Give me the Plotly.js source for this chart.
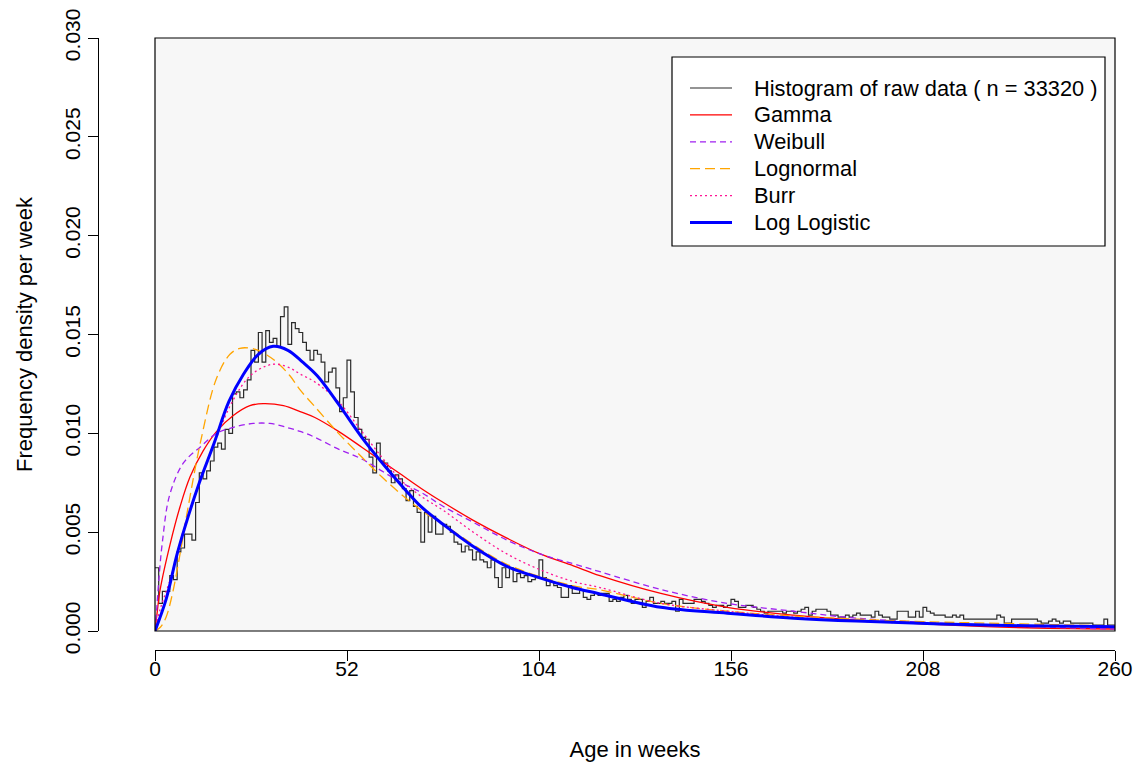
<!DOCTYPE html>
<html>
<head>
<meta charset="utf-8">
<script src="https://cdn.plot.ly/plotly-3.0.1.min.js"></script>
<style>
html,body{margin:0;padding:0;background:#ffffff;}
#chart{width:1148px;height:768px;}
</style>
</head>
<body>
<div id="chart"></div>
<script>
// ---- Histogram: density per weekly bin (weeks 0..259) ----
const histDensity = [
  0.0032,0.0014,0.0020,0.0020,0.0028,0.0026,0.0040,0.0042,0.0049,0.0049,
  0.0046,0.0065,0.0080,0.0077,0.0081,0.0086,0.0093,0.0095,0.0092,0.0102,
  0.0100,0.0120,0.0121,0.0118,0.0122,0.0127,0.0142,0.0136,0.0151,0.0136,
  0.0152,0.0146,0.0148,0.0144,0.0159,0.0164,0.0145,0.0156,0.0153,0.0151,
  0.0146,0.0142,0.0137,0.0142,0.0140,0.0136,0.0126,0.0131,0.0133,0.0123,
  0.0111,0.0118,0.0137,0.0121,0.0108,0.0102,0.0098,0.0097,0.0088,0.0080,
  0.0095,0.0086,0.0085,0.0081,0.0075,0.0079,0.0077,0.0072,0.0066,0.0071,
  0.0063,0.0060,0.0045,0.0060,0.0050,0.0058,0.0049,0.0049,0.0054,0.0053,
  0.0050,0.0045,0.0044,0.0040,0.0043,0.0041,0.0036,0.0040,0.0036,0.0035,
  0.0032,0.0036,0.0027,0.0022,0.0032,0.0027,0.0032,0.0025,0.0029,0.0027,
  0.0028,0.0025,0.0026,0.0027,0.0036,0.0027,0.0023,0.0025,0.0023,0.0022,
  0.0017,0.0017,0.0023,0.0019,0.0019,0.0021,0.0017,0.0016,0.0018,0.0019,
  0.0018,0.0019,0.0019,0.0015,0.0016,0.0015,0.0017,0.0018,0.0016,0.0014,
  0.0016,0.0016,0.0012,0.0015,0.0017,0.0014,0.0014,0.0015,0.0014,0.0014,
  0.0015,0.0010,0.0016,0.0014,0.0014,0.0014,0.0016,0.0016,0.0015,0.0014,
  0.0013,0.0012,0.0013,0.0013,0.0012,0.0013,0.0016,0.0015,0.0012,0.0012,
  0.0013,0.0013,0.0012,0.0011,0.0010,0.0009,0.0010,0.0010,0.0010,0.0010,
  0.0009,0.0010,0.0010,0.0009,0.0010,0.0011,0.0012,0.0008,0.0010,0.0011,
  0.0011,0.0011,0.0010,0.0008,0.0008,0.0007,0.0007,0.0008,0.0007,0.0008,
  0.0009,0.0008,0.0008,0.0008,0.0007,0.0010,0.0008,0.0007,0.0007,0.0006,
  0.0006,0.0010,0.0010,0.0010,0.0007,0.0007,0.0010,0.0007,0.0012,0.0010,
  0.0009,0.0008,0.0008,0.0008,0.0007,0.0007,0.0008,0.0007,0.0008,0.0006,
  0.0006,0.0006,0.0006,0.0006,0.0006,0.0006,0.0006,0.0006,0.0008,0.0007,
  0.0004,0.0004,0.0006,0.0006,0.0006,0.0006,0.0006,0.0006,0.0006,0.0005,
  0.0004,0.0004,0.0005,0.0006,0.0005,0.0004,0.0005,0.0005,0.0004,0.0004,
  0.0004,0.0004,0.0004,0.0004,0.0003,0.0003,0.0003,0.0006,0.0003,0.0003
];
const histBinWidth = 1; // weeks
const histN = 33320;

// ---- Fitted density curves (week, density) ----
const gammaWeeks = [0,0.5,1.4,4.1,6.8,9.5,13,16.7,21.2,25.7,29.3,34.8,39.3,43.3,49.7,56,61.4,66.8,72.2,78.1,86.2,95.3,104.3,113.3,120.5,137,155,173,190,225,260];
const gammaDens  = [0,0.0008,0.0021,0.0044,0.0063,0.0078,0.0091,0.0101,0.0109,0.0114,0.0115,0.0114,0.0111,0.0108,0.0101,0.0093,0.0086,0.0079,0.0072,0.0065,0.0056,0.0047,0.0039,0.0033,0.0028,0.0019,0.0012,0.0008,0.00055,0.00022,0.0001];

const weibullWeeks = [0,0.5,1,2,4,7.7,12.2,16.7,21.2,26.6,31.1,35.7,39.3,43.3,49.7,56,61.4,66.8,72.2,78.1,86.2,95.3,104.3,113.3,120.5,137,155,173,190,225,260];
const weibullDens  = [0,0.0012,0.0025,0.0045,0.0069,0.0085,0.0093,0.0100,0.0103,0.0105,0.0105,0.0103,0.0101,0.0098,0.0092,0.0087,0.0081,0.0075,0.0070,0.0063,0.0055,0.0046,0.0039,0.0034,0.0030,0.0021,0.0014,0.0010,0.00065,0.0003,0.0001];

const lognormWeeks = [0,1.5,3,4.5,6.5,9,12.6,16.7,20.3,23,26,29,33,36.6,39.3,43.3,49.7,56,61.4,66.8,72.2,78,95,113,120,137,155,173,190,208,225,260];
const lognormDens  = [0,0.0002,0.0007,0.0017,0.0036,0.0063,0.0098,0.0128,0.0140,0.0143,0.0143,0.0141,0.0136,0.0129,0.0122,0.01135,0.0100,0.0088,0.0078,0.0069,0.0061,0.0054,0.0034,0.0023,0.0021,0.0014,0.0010,0.00076,0.0006,0.00047,0.0004,0.00025];

const burrWeeks = [0,1.4,4.1,7.7,12.2,16.7,21.2,25.7,30,33,36.6,39.3,43.3,49.7,56,61.4,66.8,72.2,78.1,86.2,95.3,104.3,113.3,120.5,137,155,173,190,225,260];
const burrDens  = [0,0.0011,0.0026,0.0051,0.0076,0.0098,0.0117,0.0129,0.0134,0.0135,0.0133,0.0130,0.0126,0.0116,0.0101,0.0088,0.0076,0.0068,0.0061,0.0050,0.0039,0.0031,0.0025,0.0022,0.0014,0.0010,0.0007,0.0005,0.0003,0.0002];

const loglogWeeks = [0,3,6,9,12,16,20,24,28,32,36,40,44,50,56,62,68,72,78,86,95,104,113,120,137,155,173,190,225,260];
const loglogDens  = [0,0.0016,0.0039,0.0058,0.0075,0.0095,0.0116,0.0130,0.0140,0.0144,0.0142,0.0136,0.0129,0.0114,0.0098,0.0084,0.0071,0.0063,0.0054,0.0043,0.0033,0.0027,0.0022,0.0019,0.0012,0.0009,0.00065,0.0005,0.0003,0.00022];

const xTicks = [0,52,104,156,208,260];
const yTicks = [0,0.005,0.010,0.015,0.020,0.025,0.030];
const yTickText = ["0.000","0.005","0.010","0.015","0.020","0.025","0.030"];

const seriesNames = ["Histogram of raw data ( n = " + histN + " )","Gamma","Weibull","Lognormal","Burr","Log Logistic"];

// build histogram step from bins
const hx = [], hy = [];
for (let i = 0; i < histDensity.length; i++) { hx.push(i*histBinWidth); hy.push(histDensity[i]); }
hx.push(histDensity.length*histBinWidth); hy.push(histDensity[histDensity.length-1]);

const FONT = "Liberation Sans, Arial, sans-serif";

const styles = [
  {shape:'hv', color:'#2b2b2b', width:1.2},
  {shape:'spline', color:'#FF0000', width:1.3},
  {shape:'spline', color:'#A020F0', width:1.3, dash:'6px,4px'},
  {shape:'spline', color:'#FFA500', width:1.3, dash:'10px,5px'},
  {shape:'spline', color:'#FF1493', width:1.3, dash:'2px,3px'},
  {shape:'spline', color:'#0000FF', width:3}
];
const xs = [hx, gammaWeeks, weibullWeeks, lognormWeeks, burrWeeks, loglogWeeks];
const ys = [hy, gammaDens, weibullDens, lognormDens, burrDens, loglogDens];

const traces = xs.map((x, i) => ({
  x: x, y: ys[i], type: 'scatter', mode: 'lines', name: seriesNames[i],
  line: styles[i], hoverinfo: 'skip'
}));

const W = 1148, H = 768;
const mL = 40, mR = 33, mT = 38, mB = 60;
const pw = W - mL - mR, ph = H - mT - mB;
const boxLeft = 155, boxBottom = 631;
const yAxisX = 98, xAxisY = 650;
const px2x = p => (p - mL)/pw;
const px2y = p => (H - mB - p)/ph;

// manual legend (R-style box)
const legL = 672, legR = 1105, legT = 57, legB = 246;
const rowY0 = 88, rowStep = 26.9;
const sampleX0 = 690, sampleX1 = 732, textX = 752;
const shapes = [
  {type:'rect', xref:'x domain', yref:'y domain', x0:0, x1:1, y0:0, y1:1,
   line:{color:'#000000', width:1.2}, fillcolor:'rgba(0,0,0,0)', layer:'above'},
  {type:'rect', xref:'paper', yref:'paper', x0:px2x(legL), x1:px2x(legR), y0:px2y(legB), y1:px2y(legT),
   line:{color:'#000000', width:1.2}, fillcolor:'#ffffff', layer:'above'}
];
const annotations = [];
seriesNames.forEach((nm, i) => {
  const yy = px2y(rowY0 + i*rowStep);
  const st = styles[i];
  shapes.push({type:'line', xref:'paper', yref:'paper', x0:px2x(sampleX0), x1:px2x(sampleX1), y0:yy, y1:yy,
    line:{color: st.color, width: st.width, dash: st.dash || 'solid'}, layer:'above'});
  annotations.push({xref:'paper', yref:'paper', x:px2x(textX), y:yy, xanchor:'left', yanchor:'middle',
    text: nm, showarrow:false, font:{family:FONT, size:21.8, color:'#000000'}});
});

const layout = {
  width: W, height: H,
  margin: {l: mL, r: mR, t: mT, b: mB, pad: 0},
  paper_bgcolor: '#ffffff',
  plot_bgcolor: '#f7f7f7',
  font: {family: FONT, size: 21, color: '#000000'},
  showlegend: false,
  xaxis: {
    domain: [px2x(boxLeft), 1],
    range: [0, 260], autorange: false,
    anchor: 'free', position: px2y(xAxisY),
    tickmode: 'array', tickvals: xTicks, ticktext: xTicks.map(String),
    ticks: 'outside', ticklen: 10, tickwidth: 1, tickcolor: '#000000',
    ticklabelstandoff: -10,
    showline: true, linecolor: '#000000', linewidth: 1,
    showgrid: false, zeroline: false,
    tickfont: {family: FONT, size: 21},
    title: {text: 'Age in weeks', font: {family: FONT, size: 22}, standoff: 62}
  },
  yaxis: {
    domain: [px2y(boxBottom), 1],
    range: [0, 0.030], autorange: false,
    anchor: 'free', position: px2x(yAxisX),
    tickmode: 'array', tickvals: yTicks, ticktext: yTickText,
    ticks: 'outside', ticklen: 10, tickwidth: 1, tickcolor: '#000000',
    tickangle: -90,
    showline: true, linecolor: '#000000', linewidth: 1,
    showgrid: false, zeroline: false,
    tickfont: {family: FONT, size: 21},
    title: {text: 'Frequency density per week', font: {family: FONT, size: 22}, standoff: 20}
  },
  shapes: shapes,
  annotations: annotations
};

Plotly.newPlot('chart', traces, layout, {staticPlot: true, displayModeBar: false});
</script>
</body>
</html>
